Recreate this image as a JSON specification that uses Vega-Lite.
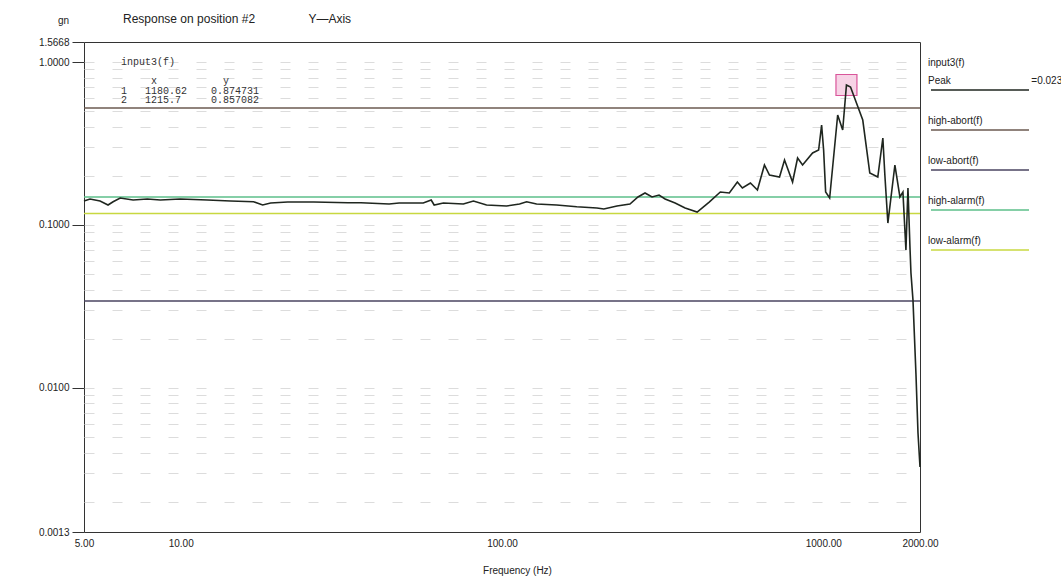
{
  "$schema": "https://vega.github.io/schema/vega-lite/v6.json",
  "width": 836,
  "height": 490,
  "autosize": {"type": "none"},
  "padding": {"left": 84, "top": 42, "right": 141, "bottom": 53},
  "background": "white",
  "title": {
    "text": "Response on position #2\u00a0\u00a0\u00a0\u00a0\u00a0\u00a0\u00a0\u00a0\u00a0\u00a0\u00a0\u00a0\u00a0\u00a0\u00a0\u00a0Y\u2014Axis",
    "anchor": "start", "frame": "group", "dx": 39, "offset": -16, "baseline": "middle",
    "fontSize": 12, "fontWeight": "normal", "font": "Liberation Sans", "color": "#222"
  },
  "config": {
    "view": {"stroke": "#333", "strokeWidth": 1},
    "axis": {
      "labelFont": "Liberation Sans", "labelFontSize": 10, "labelColor": "#222",
      "titleFont": "Liberation Sans", "titleFontSize": 10, "titleFontWeight": "normal", "titleColor": "#222",
      "domain": false, "grid": false, "tickColor": "#333"
    }
  },
  "resolve": {"axis": {"y": "independent"}},
  "datasets": {
    "curve": [
      {"f": 5, "v": 0.1401}, {"f": 5.22, "v": 0.1442}, {"f": 5.61, "v": 0.1401}, {"f": 5.94, "v": 0.1324},
      {"f": 6.16, "v": 0.1387}, {"f": 6.48, "v": 0.1462}, {"f": 7.11, "v": 0.1421}, {"f": 7.87, "v": 0.1442},
      {"f": 8.64, "v": 0.1421}, {"f": 9.97, "v": 0.1442}, {"f": 12.11, "v": 0.1421}, {"f": 14.29, "v": 0.1401},
      {"f": 16.86, "v": 0.1387}, {"f": 17.99, "v": 0.1324}, {"f": 19.05, "v": 0.1362}, {"f": 21.53, "v": 0.1381},
      {"f": 25.95, "v": 0.1381}, {"f": 33.16, "v": 0.1368}, {"f": 36.4, "v": 0.1368}, {"f": 44.53, "v": 0.1343},
      {"f": 47.85, "v": 0.1362}, {"f": 56.86, "v": 0.1362}, {"f": 60.2, "v": 0.1421}, {"f": 61.5, "v": 0.1324},
      {"f": 65.67, "v": 0.1362}, {"f": 75.8, "v": 0.1343}, {"f": 81.5, "v": 0.1401}, {"f": 89.5, "v": 0.1324},
      {"f": 103.3, "v": 0.1305}, {"f": 113.4, "v": 0.1343}, {"f": 119.3, "v": 0.1387}, {"f": 128.1, "v": 0.1343},
      {"f": 147.9, "v": 0.1324}, {"f": 170.9, "v": 0.1292}, {"f": 197.4, "v": 0.1269}, {"f": 207.5, "v": 0.1251},
      {"f": 227.9, "v": 0.1305}, {"f": 250.2, "v": 0.1343}, {"f": 265.0, "v": 0.1483}, {"f": 278.7, "v": 0.1569},
      {"f": 293.1, "v": 0.1483}, {"f": 308.2, "v": 0.1525}, {"f": 321.8, "v": 0.1442}, {"f": 345.8, "v": 0.1362},
      {"f": 371.5, "v": 0.1269}, {"f": 405.0, "v": 0.1199}, {"f": 441.5, "v": 0.1381}, {"f": 478.1, "v": 0.1591},
      {"f": 510.0, "v": 0.1569}, {"f": 540.2, "v": 0.1833}, {"f": 560.0, "v": 0.1684}, {"f": 593.2, "v": 0.1807},
      {"f": 623.8, "v": 0.1637}, {"f": 655.9, "v": 0.2331}, {"f": 680.0, "v": 0.2023}, {"f": 730.8, "v": 0.1967},
      {"f": 757.5, "v": 0.2501}, {"f": 802.4, "v": 0.1833}, {"f": 831.8, "v": 0.2573}, {"f": 862.1, "v": 0.2331},
      {"f": 926.3, "v": 0.2762}, {"f": 967.2, "v": 0.2882}, {"f": 988.1, "v": 0.41}, {"f": 1002.4, "v": 0.2882},
      {"f": 1017, "v": 0.1591}, {"f": 1046.7, "v": 0.1462}, {"f": 1108.7, "v": 0.4727}, {"f": 1149.2, "v": 0.3824},
      {"f": 1180.62, "v": 0.7224}, {"f": 1215.7, "v": 0.7023}, {"f": 1327, "v": 0.4403}, {"f": 1395.6, "v": 0.2082},
      {"f": 1478, "v": 0.1967}, {"f": 1532.5, "v": 0.3415}, {"f": 1554.7, "v": 0.2023}, {"f": 1588.7, "v": 0.1026},
      {"f": 1670.7, "v": 0.2331}, {"f": 1731.8, "v": 0.1483}, {"f": 1769.6, "v": 0.1591}, {"f": 1808.2, "v": 0.0701},
      {"f": 1834.6, "v": 0.1684}, {"f": 1861.1, "v": 0.0731}, {"f": 1874.5, "v": 0.0506}, {"f": 1901.7, "v": 0.0346},
      {"f": 1943.3, "v": 0.012}, {"f": 1971.5, "v": 0.00527}, {"f": 2000, "v": 0.00326}
    ],
    "limits": [
      {"series": "high-abort(f)", "v": 0.522},
      {"series": "low-abort(f)", "v": 0.0341},
      {"series": "high-alarm(f)", "v": 0.1483},
      {"series": "low-alarm(f)", "v": 0.1174}
    ],
    "cursors": [{"f": 1180.62, "v": 0.7224}],
    "table": [
      {"f": 6.52, "v": 1.066, "lines": ["input3(f)", "\u200b", "\u200b\u00a0\u00a0\u00a0\u00a0\u00a0x\u00a0\u00a0\u00a0\u00a0\u00a0\u00a0\u00a0\u00a0\u00a0\u00a0\u00a0y", "1\u00a0\u00a0\u00a01180.62\u00a0\u00a0\u00a0\u00a00.874731", "2\u00a0\u00a0\u00a01215.7\u00a0\u00a0\u00a0\u00a0\u00a00.857082"]}
    ]
  },
  "layer": [
    {
      "data": {"name": "limits"},
      "mark": {"type": "rule", "strokeWidth": 1.4},
      "encoding": {
        "y": {
          "field": "v", "type": "quantitative",
          "scale": {"type": "log", "domain": [0.0013, 1.327], "nice": false, "zero": false},
          "axis": {
            "orient": "left", "title": null, "labels": false, "ticks": false, "domain": false,
            "grid": true, "gridColor": "#dcdcdc", "gridDash": [10, 18], "gridWidth": 1,
            "values": [0.002, 0.003, 0.004, 0.005, 0.006, 0.007, 0.008, 0.009, 0.01, 0.02, 0.03, 0.04, 0.05, 0.06, 0.07, 0.08, 0.09, 0.1, 0.2, 0.3, 0.4, 0.5, 0.6, 0.7, 0.8, 0.9, 1]
          }
        },
        "stroke": {
          "field": "series", "type": "nominal",
          "scale": {
            "domain": ["Peak", "high-abort(f)", "low-abort(f)", "high-alarm(f)", "low-alarm(f)"],
            "range": ["#1f261f", "#6b5a50", "#4a4560", "#5cbf8a", "#c8d840"]
          },
          "legend": {
            "orient": "none", "legendX": 844, "legendY": 16,
            "title": "input3(f)", "titleFont": "Liberation Sans", "titleFontSize": 10, "titleFontWeight": "normal", "titleColor": "#222", "titlePadding": 8,
            "labelFont": "Liberation Sans", "labelFontSize": 10, "labelColor": "#222", "labelLimit": 0, "labelOffset": -10,
            "symbolType": "M-1,4.5L48,4.5", "symbolSize": 16, "symbolStrokeWidth": 1.5,
            "rowPadding": 23,
            "labelExpr": "datum.label == 'Peak' ? 'Peak\u00a0\u00a0\u00a0\u00a0\u00a0\u00a0\u00a0\u00a0\u00a0\u00a0\u00a0\u00a0\u00a0\u00a0\u00a0\u00a0\u00a0\u00a0\u00a0\u00a0\u00a0\u00a0\u00a0\u00a0\u00a0\u00a0\u00a0\u00a0\u00a0=0.023' : datum.label"
          }
        }
      }
    },
    {
      "data": {"name": "cursors"},
      "mark": {"type": "point", "shape": "square", "size": 440, "filled": true, "fill": "#f7d3e6", "stroke": "#d9559a", "strokeWidth": 1.2, "opacity": 1},
      "encoding": {
        "x": {"field": "f", "type": "quantitative", "scale": {"type": "log", "domain": [5, 2000], "nice": false, "zero": false}},
        "y": {"field": "v", "type": "quantitative", "axis": null}
      }
    },
    {
      "data": {"name": "curve"},
      "mark": {"type": "line", "strokeWidth": 1.6},
      "encoding": {
        "x": {
          "field": "f", "type": "quantitative", "scale": {"type": "log", "domain": [5, 2000], "nice": false, "zero": false},
          "axis": {
            "title": "Frequency (Hz)", "values": [5, 10, 100, 1000, 2000], "format": ".2f",
            "ticks": false, "labelPadding": 6, "labelFlush": false, "titlePadding": 17, "titleX": 433
          }
        },
        "y": {
          "field": "v", "type": "quantitative",
          "axis": {
            "orient": "left", "values": [0.0013, 0.01, 0.1, 1, 1.327],
            "labelExpr": "datum.value > 1.2 ? '1.5668' : format(datum.value, '.4f')",
            "tickSize": 12, "labelPadding": 3, "title": "gn", "titleAngle": 0,
            "titleX": -21, "titleY": -22, "titleAlign": "center", "titleBaseline": "middle"
          }
        },
        "stroke": {"datum": "Peak"}
      }
    },
    {
      "data": {"name": "table"},
      "mark": {"type": "text", "font": "Liberation Mono", "fontSize": 10, "align": "left", "baseline": "top", "lineHeight": 9.5, "color": "#333"},
      "encoding": {
        "x": {"field": "f", "type": "quantitative"},
        "y": {"field": "v", "type": "quantitative", "axis": null},
        "text": {"field": "lines"}
      }
    }
  ]
}
